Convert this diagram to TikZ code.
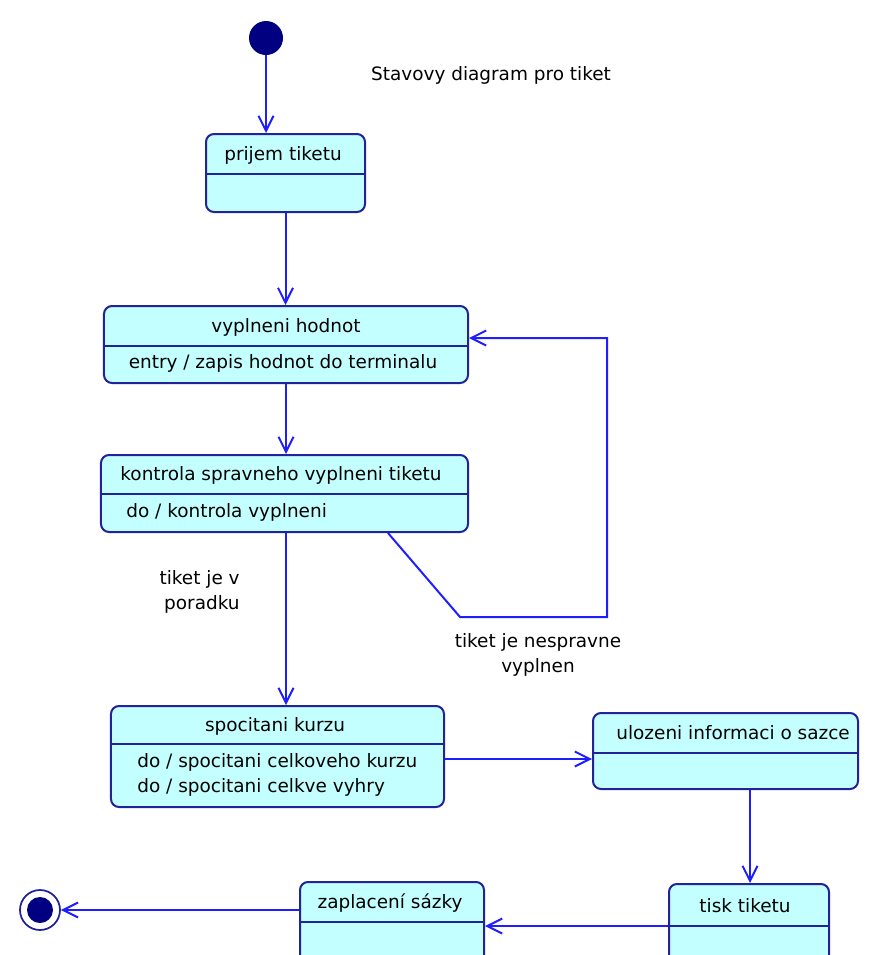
\documentclass[tikz,border=0pt]{standalone}
\usepackage{fontspec}
\setmainfont{DejaVu Sans}
\usetikzlibrary{arrows.meta}
\definecolor{statefill}{HTML}{C4FFFF}
\definecolor{stateline}{HTML}{22229A}
\definecolor{flow}{HTML}{1E1EFF}
\definecolor{dot}{HTML}{000080}

\begin{document}
\begin{tikzpicture}[x=0.2mm, y=-0.2mm,
  every node/.style={font=\fontsize{10.5}{14.2}\selectfont},
  state/.style={draw=stateline, fill=statefill, line width=0.4mm, rounded corners=1.6mm, inner sep=0pt},
  plain/.style={inner sep=0pt, text=black},
  flowline/.style={flow, line width=0.4mm, -{Straight Barb[length=3mm, width=3mm]}},
  divider/.style={stateline, line width=0.4mm}]
	\clip (0,0) rectangle (874,955);
	\fill[white] (0,0) rectangle (874,955);
	% Nodes
	\node[circle, fill=dot, minimum size=6.8mm, inner sep=0pt] (start) at (266,38) {};
	\node[plain] (title) at (491,75) {Stavovy diagram pro tiket};

	\node[state, minimum width=31.8mm, minimum height=15.6mm] (prijem) at (285.5,173) {};
	\node[state, minimum width=72.8mm, minimum height=15.4mm] (vypl) at (286,344.5) {};
	\node[state, minimum width=73.4mm, minimum height=15.4mm] (kontrola) at (284.5,493.5) {};
	\node[state, minimum width=66.6mm, minimum height=20.2mm] (spocitani) at (277.5,756.5) {};
	\node[state, minimum width=53mm, minimum height=15.2mm] (ulozeni) at (725.5,751) {};
	\node[state, minimum width=32mm, minimum height=18.2mm] (tisk) at (749,929.5) {};
	\node[state, minimum width=36.8mm, minimum height=18.6mm] (zaplaceni) at (392,928.5) {};

	\node[circle, draw=stateline, line width=0.35mm, fill=white, minimum size=8mm, inner sep=0pt] (end) at (40,910) {};
	\node[circle, fill=dot, minimum size=5.2mm, inner sep=0pt] (endDot) at (end) {};

	% Dividers
	\draw[divider] (prijem.west |- 0,174) -- (prijem.east |- 0,174);
	\draw[divider] (vypl.west |- 0,346) -- (vypl.east |- 0,346);
	\draw[divider] (kontrola.west |- 0,494) -- (kontrola.east |- 0,494);
	\draw[divider] (spocitani.west |- 0,744) -- (spocitani.east |- 0,744);
	\draw[divider] (ulozeni.west |- 0,753) -- (ulozeni.east |- 0,753);
	\draw[divider] (tisk.west |- 0,926) -- (tisk.east |- 0,926);
	\draw[divider] (zaplaceni.west |- 0,922) -- (zaplaceni.east |- 0,922);

	% Texts
	\node[plain] (prijemT) at (283,155) {prijem tiketu};
	\node[plain] (vyplT) at (286,327) {vyplneni hodnot};
	\node[plain] (vyplB) at (283,363) {entry / zapis hodnot do terminalu};
	\node[plain] (kontrolaT) at (281,475) {kontrola spravneho vyplneni tiketu};
	\node[plain, anchor=west] (kontrolaB) at (126,512) {do / kontrola vyplneni};
	\node[plain] (spocitaniT) at (275,726) {spocitani kurzu};
	\node[plain, anchor=west] (spocitaniB1) at (137,762) {do / spocitani celkoveho kurzu};
	\node[plain, anchor=west] (spocitaniB2) at (137,787) {do / spocitani celkve vyhry};
	\node[plain, anchor=west] (ulozeniT) at (616,733) {ulozeni informaci o sazce};
	\node[plain] (tiskT) at (745,906) {tisk tiketu};
	\node[plain] (zaplaceniT) at (390,903) {zaplacení sázky};
	\node[plain, align=right, anchor=east] (okLabel) at (240,592) {tiket je v\\poradku};
	\node[plain, align=center] (badLabel) at (538,655) {tiket je nespravne\\vyplnen};

	% Edges
	\coordinate (loopA) at (460,617);
	\coordinate (loopB) at (607,617);
	\coordinate (loopC) at (607,338);
	\draw[flowline] (start) -- (start |- prijem.north);
	\draw[flowline] (prijem.south) -- (prijem.south |- vypl.north);
	\draw[flowline] (vypl.south) -- (vypl.south |- kontrola.north);
	\draw[flowline] (kontrola.south -| 286,0) -- (spocitani.north -| 286,0);
	\draw[flowline] (kontrola.south -| 388,0) -- (loopA) -- (loopB) -- (loopC) -- (vypl.east |- loopC);
	\draw[flowline] (spocitani.east |- 0,759) -- (ulozeni.west |- 0,759);
	\draw[flowline] (ulozeni.south -| 750,0) -- (tisk.north -| 750,0);
	\draw[flowline] (tisk.west |- 0,926) -- (zaplaceni.east |- 0,926);
	\draw[flowline] (zaplaceni.west |- end) -- (end);
\end{tikzpicture}
\end{document}
